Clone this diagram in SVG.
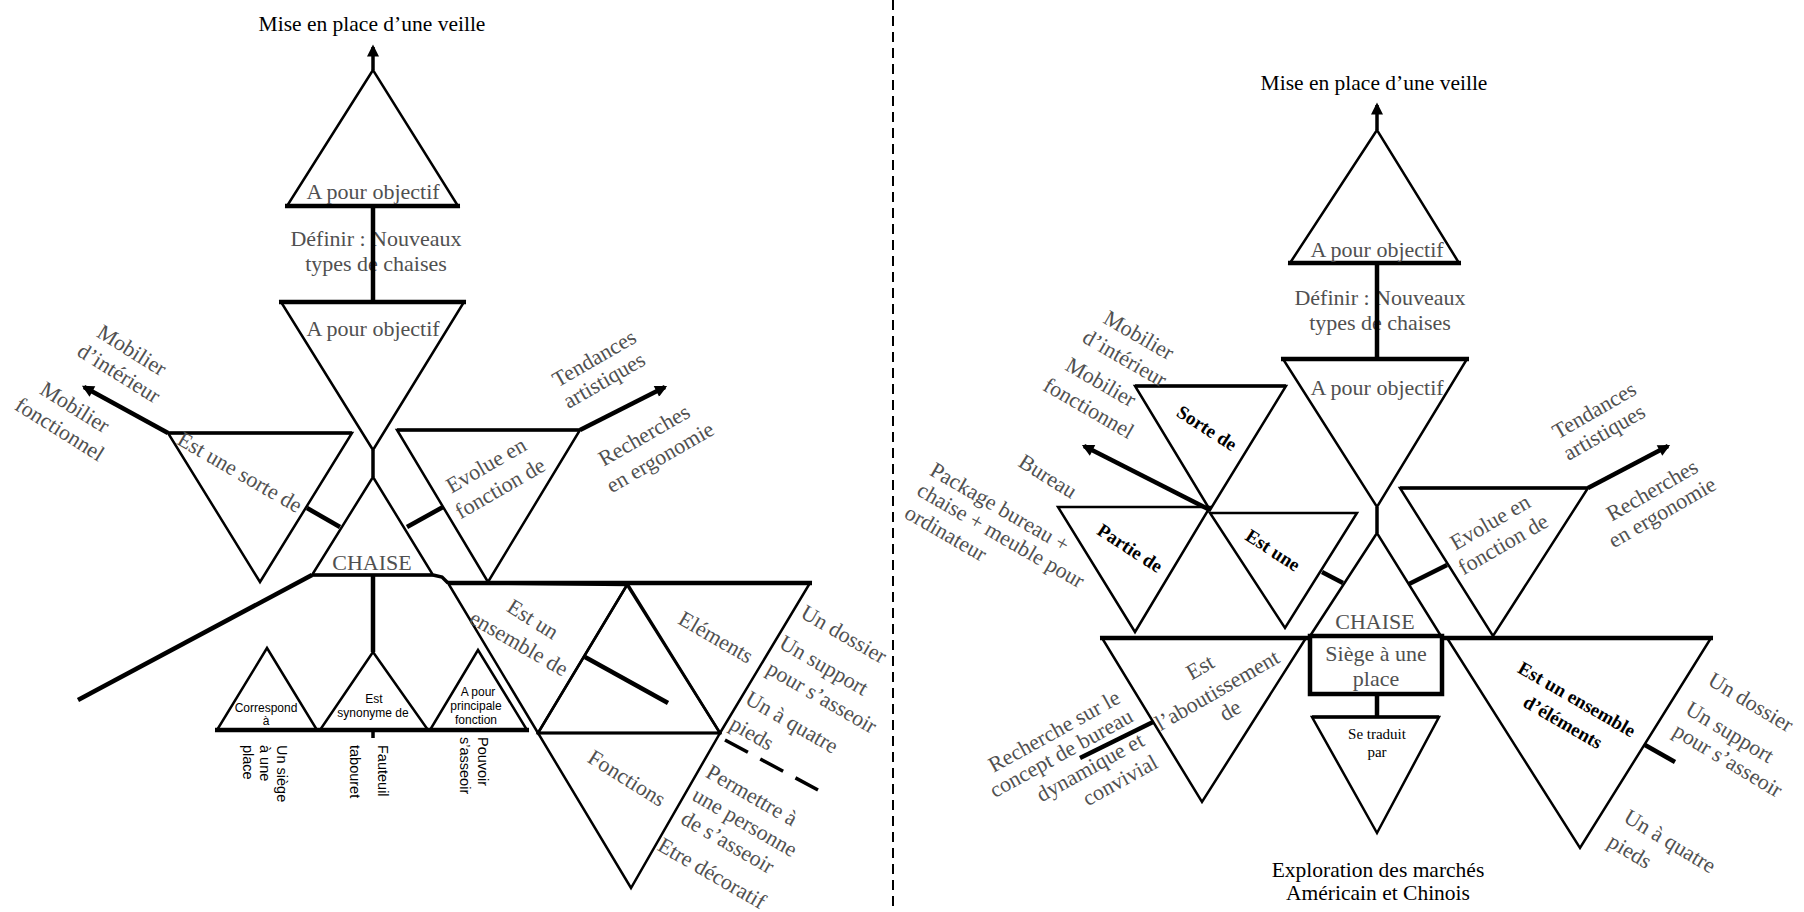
<svg xmlns="http://www.w3.org/2000/svg" width="1804" height="912" viewBox="0 0 1804 912">
<defs>
<style>
.ln{stroke:#000;stroke-width:2.5;fill:none;stroke-linejoin:miter}
.th{stroke:#000;stroke-width:4.5;fill:none}
.md{stroke:#000;stroke-width:3.5;fill:none}
.lb{font-family:"Liberation Serif",serif;font-size:22px;fill:#505050;text-anchor:middle;dominant-baseline:central}
.ti{font-family:"Liberation Serif",serif;font-size:21.5px;fill:#000;text-anchor:middle;dominant-baseline:central}
.bd{font-family:"Liberation Serif",serif;font-size:19px;font-weight:bold;fill:#000;text-anchor:middle;dominant-baseline:central}
.sm{font-family:"Liberation Sans",sans-serif;font-size:12px;fill:#000;text-anchor:middle;dominant-baseline:central}
.vt{font-family:"Liberation Sans",sans-serif;font-size:14.5px;fill:#000}
.st{font-family:"Liberation Serif",serif;font-size:15px;fill:#000;text-anchor:middle;dominant-baseline:central}
</style>
<marker id="ah" viewBox="0 0 10 10" refX="8" refY="5" markerWidth="15" markerHeight="12" markerUnits="userSpaceOnUse" orient="auto">
<path d="M0,0 L10,5 L0,10 z" fill="#000"/>
</marker>
</defs>
<rect width="1804" height="912" fill="#fff"/>

<!-- ===== LEFT DIAGRAM ===== -->
<g id="L-title"><text class="ti" x="372" y="24">Mise en place d’une veille</text></g>

<g id="L-obj1">
<polygon class="ln" points="373,70 287,206 458,206"/>
<line class="th" x1="285" y1="206" x2="460" y2="206"/>
<text class="lb" x="373" y="191">A pour objectif</text>
</g>

<g id="L-definir">
<text class="lb" x="376" y="238">Définir : Nouveaux</text>
<text class="lb" x="376" y="263">types de chaises</text>
</g>

<g id="L-obj2">
<polygon class="ln" points="281,302 464,302 373,450"/>
<line class="th" x1="279" y1="302" x2="466" y2="302"/>
<text class="lb" x="373" y="328">A pour objectif</text>
</g>

<g id="L-sorte">
<polygon class="ln" points="168,433 352,433 260,582"/>
<line class="md" x1="168" y1="433" x2="352" y2="433"/>
<text class="lb" transform="translate(240,472) rotate(30)">Est une sorte de</text>
</g>

<g id="L-evolue">
<polygon class="ln" points="397,430 580,430 488,582"/>
<line class="md" x1="397" y1="430" x2="580" y2="430"/>
<text class="lb" transform="translate(486,465) rotate(-30)">Evolue en</text>
<text class="lb" transform="translate(500,488) rotate(-30)">fonction de</text>
</g>

<g id="L-chaise">
<polygon class="ln" points="373,477 312,575 433,575"/>
<line class="md" x1="312" y1="575" x2="433" y2="575"/>
<text class="lb" x="372" y="562">CHAISE</text>
</g>

<g id="L-correspond">
<polygon class="ln" points="267,648 217,730 317,730"/>
<text class="sm" x="266" y="708">Correspond</text>
<text class="sm" x="266" y="721">à</text>
</g>
<g id="L-synonyme">
<polygon class="ln" points="373,652 320,730 428,730"/>
<text class="sm" x="374" y="699">Est</text>
<text class="sm" x="373" y="713">synonyme de</text>
</g>
<g id="L-fonction">
<polygon class="ln" points="478,650 430,730 527,730"/>
<text class="sm" x="478" y="692">A pour</text>
<text class="sm" x="476" y="706">principale</text>
<text class="sm" x="476" y="720">fonction</text>
</g>

<g id="L-vtexts">
<text class="vt" transform="translate(277,745) rotate(90)">Un siège<tspan x="0" dy="17">à une</tspan><tspan x="0" dy="17">place</tspan></text>
<text class="vt" transform="translate(378,745) rotate(90)">Fauteuil<tspan x="0" dy="28">tabouret</tspan></text>
<text class="vt" transform="translate(478,737) rotate(90)">Pouvoir<tspan x="0" dy="18">s’asseoir</tspan></text>
</g>

<g id="L-ensemble">
<polygon class="ln" points="448,583 627,585 538,733"/>
<text class="lb" transform="translate(533,619) rotate(32)">Est un</text>
<text class="lb" transform="translate(519,643) rotate(30)">ensemble de</text>
</g>
<g id="L-mid">
<polygon class="ln" points="627,585 538,733 720,733"/>
</g>
<g id="L-elements">
<polygon class="ln" points="627,583 810,583 720,733"/>
<text class="lb" transform="translate(716,637) rotate(30)">Eléments</text>
</g>
<g id="L-fonctions">
<polygon class="ln" points="538,733 720,733 631,888"/>
<text class="lb" transform="translate(627,778) rotate(32)">Fonctions</text>
</g>

<g id="L-labels">
<text class="lb" transform="translate(132,350) rotate(32)">Mobilier</text>
<text class="lb" transform="translate(119,373) rotate(32)">d’intérieur</text>
<text class="lb" transform="translate(75,407) rotate(32)">Mobilier</text>
<text class="lb" transform="translate(60,429) rotate(32)">fonctionnel</text>
<text class="lb" transform="translate(594,358) rotate(-30)">Tendances</text>
<text class="lb" transform="translate(604,380) rotate(-30)">artistiques</text>
<text class="lb" transform="translate(644,435) rotate(-30)">Recherches</text>
<text class="lb" transform="translate(660,457) rotate(-30)">en ergonomie</text>
<text class="lb" transform="translate(844,634) rotate(30)">Un dossier</text>
<text class="lb" transform="translate(824,665) rotate(30)">Un support</text>
<text class="lb" transform="translate(822,697) rotate(30)">pour s’asseoir</text>
<text class="lb" transform="translate(792,722) rotate(30)">Un à quatre</text>
<text class="lb" transform="translate(752,733) rotate(30)">pieds</text>
<text class="lb" transform="translate(752,795) rotate(30)">Permettre à</text>
<text class="lb" transform="translate(745,822) rotate(30)">une personne</text>
<text class="lb" transform="translate(728,842) rotate(30)">de s’asseoir</text>
<text class="lb" transform="translate(712,873) rotate(30)" font-size="21">Etre décoratif</text>
</g>

<!-- ===== RIGHT DIAGRAM ===== -->
<g id="R-title"><text class="ti" x="1374" y="83">Mise en place d’une veille</text></g>

<g id="R-obj1">
<polygon class="ln" points="1377,130 1290,263 1459,263"/>
<line class="th" x1="1288" y1="263" x2="1461" y2="263"/>
<text class="lb" x="1377" y="249">A pour objectif</text>
</g>
<g id="R-definir">
<text class="lb" x="1380" y="297">Définir : Nouveaux</text>
<text class="lb" x="1380" y="322">types de chaises</text>
</g>
<g id="R-obj2">
<polygon class="ln" points="1283,359 1467,359 1377,507"/>
<line class="th" x1="1281" y1="359" x2="1469" y2="359"/>
<text class="lb" x="1377" y="387">A pour objectif</text>
</g>
<g id="R-sorte">
<polygon class="ln" points="1135,386 1286,386 1210,510"/>
<line class="md" x1="1135" y1="386" x2="1286" y2="386"/>
<text class="bd" transform="translate(1207,428) rotate(33)">Sorte de</text>
</g>
<g id="R-partie">
<polygon class="ln" points="1058,507 1210,507 1135,632"/>
<text class="bd" transform="translate(1130,548) rotate(33)">Partie de</text>
</g>
<g id="R-estune">
<polygon class="ln" points="1210,513 1357,513 1285,628"/>
<text class="bd" transform="translate(1273,550) rotate(33)">Est une</text>
</g>
<g id="R-chaise">
<polygon class="ln" points="1377,533 1310,636 1441,636"/>
<text class="lb" x="1375" y="621">CHAISE</text>
</g>
<g id="R-evolue">
<polygon class="ln" points="1400,488 1588,488 1493,636"/>
<line class="md" x1="1400" y1="488" x2="1588" y2="488"/>
<text class="lb" transform="translate(1490,522) rotate(-30)">Evolue en</text>
<text class="lb" transform="translate(1503,544) rotate(-30)">fonction de</text>
</g>
<g id="R-siege">
<rect class="th" x="1310" y="636" width="132" height="58"/>
<text class="lb" x="1376" y="653">Siège à une</text>
<text class="lb" x="1376" y="678">place</text>
</g>
<g id="R-traduit">
<polygon class="ln" points="1312,717 1439,717 1377,833"/>
<line class="md" x1="1312" y1="717" x2="1439" y2="717"/>
<text class="st" x="1377" y="734">Se traduit</text>
<text class="st" x="1377" y="752">par</text>
</g>
<g id="R-abou">
<polygon class="ln" points="1102,638 1306,638 1202,802"/>
<line class="th" x1="1100" y1="638" x2="1308" y2="638"/>
<text class="lb" transform="translate(1200,667) rotate(-30)">Est</text>
<text class="lb" transform="translate(1217,690) rotate(-30)">l’aboutissement</text>
<text class="lb" transform="translate(1230,710) rotate(-30)">de</text>
</g>
<g id="R-ensemble">
<polygon class="ln" points="1447,638 1711,638 1580,848"/>
<line class="th" x1="1444" y1="638" x2="1713" y2="638"/>
<text class="bd" transform="translate(1577,699) rotate(30)">Est un ensemble</text>
<text class="bd" transform="translate(1563,722) rotate(30)">d’éléments</text>
</g>
<g id="R-explo">
<text class="ti" x="1378" y="870" font-size="22">Exploration des marchés</text>
<text class="ti" x="1378" y="893" font-size="22">Américain et Chinois</text>
</g>

<g id="R-labels">
<text class="lb" transform="translate(1139,335) rotate(30)">Mobilier</text>
<text class="lb" transform="translate(1125,358) rotate(30)">d’intérieur</text>
<text class="lb" transform="translate(1101,382) rotate(30)">Mobilier</text>
<text class="lb" transform="translate(1089,408) rotate(30)">fonctionnel</text>
<text class="lb" transform="translate(1048,476) rotate(32)">Bureau</text>
<text class="lb" transform="translate(1000,507) rotate(30)">Package bureau +</text>
<text class="lb" transform="translate(1001,535) rotate(30)">chaise + meuble pour</text>
<text class="lb" transform="translate(946,533) rotate(30)">ordinateur</text>
<text class="lb" transform="translate(1594,410) rotate(-30)">Tendances</text>
<text class="lb" transform="translate(1604,432) rotate(-30)">artistiques</text>
<text class="lb" transform="translate(1652,490) rotate(-30)">Recherches</text>
<text class="lb" transform="translate(1662,512) rotate(-30)">en ergonomie</text>
<text class="lb" transform="translate(1054,731) rotate(-29)">Recherche sur le</text>
<text class="lb" transform="translate(1061,753) rotate(-29)">concept de bureau</text>
<text class="lb" transform="translate(1090,767) rotate(-29)">dynamique et</text>
<text class="lb" transform="translate(1120,780) rotate(-29)">convivial</text>
<text class="lb" transform="translate(1751,702) rotate(31)">Un dossier</text>
<text class="lb" transform="translate(1730,732) rotate(31)">Un support</text>
<text class="lb" transform="translate(1728,760) rotate(31)">pour s’asseoir</text>
<text class="lb" transform="translate(1670,841) rotate(31)">Un à quatre</text>
<text class="lb" transform="translate(1630,851) rotate(31)">pieds</text>
</g>

<!-- ===== CONNECTORS ===== -->
<g id="connectors">
<!-- left -->
<line class="md" x1="373" y1="70" x2="373" y2="47" marker-end="url(#ah)"/>
<line class="th" x1="373" y1="206" x2="373" y2="302"/>
<line class="md" x1="373" y1="450" x2="373" y2="477"/>
<line class="th" x1="168" y1="433" x2="84" y2="387" marker-end="url(#ah)"/>
<line class="th" x1="580" y1="430" x2="665" y2="387" marker-end="url(#ah)"/>
<line class="th" x1="307" y1="508" x2="340" y2="527"/>
<line class="th" x1="407" y1="527" x2="443" y2="507"/>
<line class="th" x1="312" y1="575" x2="78" y2="700"/>
<line class="th" x1="373" y1="575" x2="373" y2="652"/>
<line class="th" x1="215" y1="730" x2="529" y2="730"/>
<line class="md" x1="373" y1="730" x2="373" y2="738"/>
<polyline class="md" points="433,575 442,577 448,583"/>
<line class="th" x1="448" y1="583" x2="812" y2="583"/>
<line class="ln" x1="538" y1="733" x2="720" y2="733"/>
<line class="th" x1="585" y1="657" x2="668" y2="703"/>
<line class="md" x1="725" y1="740" x2="818" y2="790" stroke-dasharray="26,14"/>
<!-- separator -->
<line x1="893" y1="0" x2="893" y2="912" stroke="#000" stroke-width="2" stroke-dasharray="10,6"/>
<!-- right -->
<line class="md" x1="1377" y1="130" x2="1377" y2="105" marker-end="url(#ah)"/>
<line class="th" x1="1377" y1="263" x2="1377" y2="359"/>
<line class="md" x1="1377" y1="507" x2="1377" y2="533"/>
<line class="th" x1="1210" y1="510" x2="1084" y2="446" marker-end="url(#ah)"/>
<line class="th" x1="1588" y1="488" x2="1668" y2="446" marker-end="url(#ah)"/>
<line class="th" x1="1322" y1="572" x2="1343" y2="583"/>
<line class="th" x1="1409" y1="584" x2="1447" y2="565"/>
<line class="th" x1="1377" y1="694" x2="1377" y2="717"/>
<line class="th" x1="1153" y1="722" x2="1080" y2="758"/>
<line class="th" x1="1645" y1="745" x2="1675" y2="762"/>
</g>
</svg>
